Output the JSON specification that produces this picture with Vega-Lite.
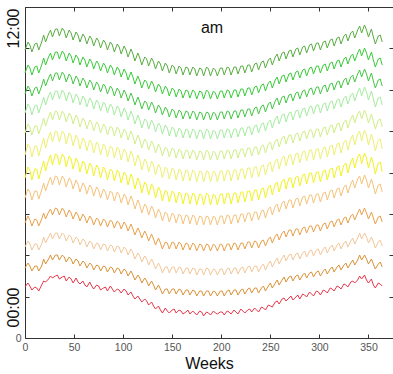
{
"$schema":"https://vega.github.io/schema/vega-lite/v6.json",
"width":368,"height":331,
"autosize":"none",
"padding":{"left":25,"top":7,"right":0,"bottom":36},
"background":"white",
"config":{"view":{"stroke":null},"font":"Liberation Sans"},
"title":{"text":"am","fontSize":16,"fontWeight":"normal","color":"#111111","offset":-42,"dx":3,"baseline":"alphabetic"},
"datasets":{"rows":[
{"x":0,"a":288,"b":265,"c":244,"d":225,"e":205,"f":183,"g":160,"h":140,"i":115,"j":91,"k":70,"l":51},
{"x":3,"a":296,"b":273,"c":252,"d":234,"e":214,"f":194,"g":171,"h":149,"i":122,"j":97,"k":75,"l":55},
{"x":5,"a":293,"b":270,"c":249,"d":231,"e":211,"f":191,"g":168,"h":146,"i":118,"j":94,"k":72,"l":52},
{"x":7,"a":286,"b":263,"c":242,"d":223,"e":203,"f":181,"g":158,"h":138,"i":112,"j":88,"k":67,"l":48},
{"x":10,"a":294,"b":271,"c":250,"d":232,"e":212,"f":192,"g":169,"h":147,"i":119,"j":94,"k":72,"l":51},
{"x":12,"a":295,"b":272,"c":251,"d":233,"e":212,"f":192,"g":169,"h":147,"i":118,"j":94,"k":72,"l":50},
{"x":14,"a":288,"b":265,"c":244,"d":225,"e":204,"f":182,"g":159,"h":139,"i":112,"j":88,"k":67,"l":47},
{"x":17,"a":296,"b":273,"c":252,"d":234,"e":213,"f":193,"g":170,"h":148,"i":119,"j":94,"k":72,"l":53},
{"x":19,"a":303,"b":280,"c":259,"d":241,"e":220,"f":200,"g":177,"h":155,"i":125,"j":101,"k":79,"l":57},
{"x":21,"a":296,"b":273,"c":252,"d":233,"e":212,"f":190,"g":167,"h":147,"i":119,"j":95,"k":74,"l":56},
{"x":24,"a":304,"b":281,"c":260,"d":242,"e":221,"f":201,"g":178,"h":156,"i":126,"j":101,"k":79,"l":59},
{"x":26,"a":308,"b":285,"c":264,"d":246,"e":226,"f":206,"g":183,"h":161,"i":129,"j":105,"k":83,"l":62},
{"x":28,"a":301,"b":278,"c":257,"d":238,"e":218,"f":196,"g":173,"h":153,"i":123,"j":99,"k":78,"l":60},
{"x":31,"a":309,"b":286,"c":265,"d":247,"e":227,"f":207,"g":184,"h":162,"i":130,"j":105,"k":83,"l":62},
{"x":33,"a":309,"b":286,"c":265,"d":247,"e":226,"f":206,"g":183,"h":161,"i":129,"j":105,"k":83,"l":63},
{"x":35,"a":302,"b":279,"c":258,"d":239,"e":218,"f":196,"g":173,"h":153,"i":123,"j":99,"k":78,"l":59},
{"x":38,"a":310,"b":287,"c":266,"d":248,"e":227,"f":207,"g":184,"h":162,"i":130,"j":105,"k":83,"l":61},
{"x":40,"a":307,"b":284,"c":263,"d":245,"e":224,"f":204,"g":181,"h":159,"i":127,"j":103,"k":81,"l":62},
{"x":42,"a":300,"b":277,"c":256,"d":237,"e":216,"f":194,"g":171,"h":151,"i":121,"j":97,"k":76,"l":57},
{"x":45,"a":308,"b":285,"c":264,"d":246,"e":225,"f":205,"g":182,"h":160,"i":128,"j":103,"k":81,"l":61},
{"x":47,"a":305,"b":282,"c":261,"d":243,"e":222,"f":202,"g":179,"h":157,"i":125,"j":101,"k":79,"l":59},
{"x":49,"a":298,"b":275,"c":254,"d":235,"e":214,"f":192,"g":169,"h":149,"i":119,"j":95,"k":74,"l":55},
{"x":52,"a":306,"b":283,"c":262,"d":244,"e":223,"f":203,"g":180,"h":158,"i":126,"j":101,"k":79,"l":60},
{"x":54,"a":303,"b":280,"c":259,"d":241,"e":219,"f":199,"g":176,"h":154,"i":123,"j":99,"k":77,"l":56},
{"x":56,"a":296,"b":273,"c":252,"d":233,"e":211,"f":189,"g":166,"h":146,"i":117,"j":93,"k":72,"l":54},
{"x":59,"a":304,"b":281,"c":260,"d":242,"e":220,"f":200,"g":177,"h":155,"i":124,"j":99,"k":77,"l":57},
{"x":61,"a":301,"b":278,"c":257,"d":239,"e":217,"f":197,"g":174,"h":152,"i":121,"j":97,"k":75,"l":53},
{"x":63,"a":294,"b":271,"c":250,"d":231,"e":209,"f":187,"g":164,"h":144,"i":115,"j":91,"k":70,"l":51},
{"x":66,"a":302,"b":279,"c":258,"d":240,"e":218,"f":198,"g":175,"h":153,"i":122,"j":97,"k":75,"l":56},
{"x":68,"a":299,"b":276,"c":255,"d":237,"e":215,"f":195,"g":172,"h":150,"i":119,"j":95,"k":73,"l":52},
{"x":70,"a":292,"b":269,"c":248,"d":229,"e":207,"f":185,"g":162,"h":142,"i":113,"j":89,"k":68,"l":49},
{"x":73,"a":300,"b":277,"c":256,"d":238,"e":216,"f":196,"g":173,"h":151,"i":120,"j":95,"k":73,"l":53},
{"x":75,"a":297,"b":274,"c":253,"d":235,"e":213,"f":193,"g":170,"h":148,"i":118,"j":94,"k":72,"l":52},
{"x":77,"a":290,"b":267,"c":246,"d":227,"e":205,"f":183,"g":160,"h":140,"i":112,"j":88,"k":67,"l":48},
{"x":80,"a":298,"b":275,"c":254,"d":236,"e":214,"f":194,"g":171,"h":149,"i":119,"j":94,"k":72,"l":50},
{"x":82,"a":295,"b":272,"c":251,"d":233,"e":211,"f":191,"g":168,"h":146,"i":117,"j":93,"k":71,"l":51},
{"x":84,"a":288,"b":265,"c":244,"d":225,"e":203,"f":181,"g":158,"h":138,"i":111,"j":87,"k":66,"l":47},
{"x":87,"a":296,"b":273,"c":252,"d":234,"e":212,"f":192,"g":169,"h":147,"i":118,"j":93,"k":71,"l":52},
{"x":89,"a":293,"b":270,"c":249,"d":231,"e":210,"f":190,"g":167,"h":145,"i":116,"j":92,"k":70,"l":49},
{"x":91,"a":286,"b":263,"c":242,"d":223,"e":202,"f":180,"g":157,"h":137,"i":110,"j":86,"k":65,"l":46},
{"x":94,"a":294,"b":271,"c":250,"d":232,"e":211,"f":191,"g":168,"h":146,"i":117,"j":92,"k":70,"l":49},
{"x":96,"a":291,"b":268,"c":247,"d":229,"e":208,"f":188,"g":165,"h":143,"i":115,"j":91,"k":69,"l":48},
{"x":98,"a":284,"b":261,"c":240,"d":221,"e":200,"f":178,"g":155,"h":135,"i":109,"j":85,"k":64,"l":45},
{"x":101,"a":292,"b":269,"c":248,"d":230,"e":209,"f":189,"g":166,"h":144,"i":116,"j":91,"k":69,"l":49},
{"x":103,"a":288,"b":265,"c":244,"d":226,"e":206,"f":186,"g":163,"h":141,"i":113,"j":89,"k":67,"l":47},
{"x":105,"a":281,"b":258,"c":237,"d":218,"e":198,"f":176,"g":153,"h":133,"i":107,"j":83,"k":62,"l":43},
{"x":108,"a":289,"b":266,"c":245,"d":227,"e":207,"f":187,"g":164,"h":142,"i":114,"j":89,"k":67,"l":46},
{"x":110,"a":284,"b":261,"c":240,"d":222,"e":202,"f":182,"g":159,"h":137,"i":109,"j":85,"k":63,"l":42},
{"x":112,"a":277,"b":254,"c":233,"d":214,"e":194,"f":172,"g":149,"h":129,"i":103,"j":79,"k":58,"l":39},
{"x":115,"a":285,"b":262,"c":241,"d":223,"e":203,"f":183,"g":160,"h":138,"i":110,"j":85,"k":63,"l":42},
{"x":117,"a":280,"b":257,"c":236,"d":218,"e":198,"f":178,"g":155,"h":133,"i":106,"j":82,"k":60,"l":39},
{"x":119,"a":273,"b":250,"c":229,"d":210,"e":190,"f":168,"g":145,"h":125,"i":100,"j":76,"k":55,"l":36},
{"x":122,"a":281,"b":258,"c":237,"d":219,"e":199,"f":179,"g":156,"h":134,"i":107,"j":82,"k":60,"l":39},
{"x":124,"a":279,"b":256,"c":235,"d":217,"e":196,"f":176,"g":153,"h":131,"i":103,"j":79,"k":57,"l":37},
{"x":126,"a":272,"b":249,"c":228,"d":209,"e":188,"f":166,"g":143,"h":123,"i":97,"j":73,"k":52,"l":33},
{"x":129,"a":280,"b":257,"c":236,"d":218,"e":197,"f":177,"g":154,"h":132,"i":104,"j":79,"k":57,"l":36},
{"x":131,"a":276,"b":253,"c":232,"d":214,"e":193,"f":173,"g":150,"h":128,"i":99,"j":75,"k":53,"l":32},
{"x":133,"a":269,"b":246,"c":225,"d":206,"e":185,"f":163,"g":140,"h":120,"i":93,"j":69,"k":48,"l":29},
{"x":136,"a":277,"b":254,"c":233,"d":215,"e":194,"f":174,"g":151,"h":129,"i":100,"j":75,"k":53,"l":32},
{"x":138,"a":274,"b":251,"c":230,"d":212,"e":190,"f":170,"g":147,"h":125,"i":95,"j":71,"k":49,"l":28},
{"x":140,"a":267,"b":244,"c":223,"d":204,"e":182,"f":160,"g":137,"h":117,"i":89,"j":65,"k":44,"l":25},
{"x":143,"a":275,"b":252,"c":231,"d":213,"e":191,"f":171,"g":148,"h":126,"i":96,"j":71,"k":49,"l":30},
{"x":145,"a":272,"b":249,"c":228,"d":210,"e":189,"f":169,"g":146,"h":124,"i":95,"j":71,"k":49,"l":27},
{"x":147,"a":265,"b":242,"c":221,"d":202,"e":181,"f":159,"g":136,"h":116,"i":89,"j":65,"k":44,"l":25},
{"x":150,"a":273,"b":250,"c":229,"d":211,"e":190,"f":170,"g":147,"h":125,"i":96,"j":71,"k":49,"l":28},
{"x":152,"a":271,"b":248,"c":227,"d":209,"e":188,"f":168,"g":145,"h":123,"i":95,"j":71,"k":49,"l":29},
{"x":154,"a":264,"b":241,"c":220,"d":201,"e":180,"f":158,"g":135,"h":115,"i":89,"j":65,"k":44,"l":25},
{"x":157,"a":272,"b":249,"c":228,"d":210,"e":189,"f":169,"g":146,"h":124,"i":96,"j":71,"k":49,"l":28},
{"x":159,"a":270,"b":247,"c":226,"d":208,"e":187,"f":167,"g":144,"h":122,"i":94,"j":70,"k":48,"l":27},
{"x":161,"a":263,"b":240,"c":219,"d":200,"e":179,"f":157,"g":134,"h":114,"i":88,"j":64,"k":43,"l":24},
{"x":164,"a":271,"b":248,"c":227,"d":209,"e":188,"f":168,"g":145,"h":123,"i":95,"j":70,"k":48,"l":26},
{"x":166,"a":270,"b":247,"c":226,"d":208,"e":187,"f":167,"g":144,"h":122,"i":94,"j":70,"k":48,"l":28},
{"x":168,"a":263,"b":240,"c":219,"d":200,"e":179,"f":157,"g":134,"h":114,"i":88,"j":64,"k":43,"l":24},
{"x":171,"a":271,"b":248,"c":227,"d":209,"e":188,"f":168,"g":145,"h":123,"i":95,"j":70,"k":48,"l":27},
{"x":173,"a":269,"b":246,"c":225,"d":207,"e":186,"f":166,"g":143,"h":121,"i":93,"j":69,"k":47,"l":25},
{"x":175,"a":262,"b":239,"c":218,"d":199,"e":178,"f":156,"g":133,"h":113,"i":87,"j":63,"k":42,"l":23},
{"x":178,"a":270,"b":247,"c":226,"d":208,"e":187,"f":167,"g":144,"h":122,"i":94,"j":69,"k":47,"l":27},
{"x":180,"a":269,"b":246,"c":225,"d":207,"e":186,"f":166,"g":143,"h":121,"i":93,"j":69,"k":47,"l":26},
{"x":182,"a":262,"b":239,"c":218,"d":199,"e":178,"f":156,"g":133,"h":113,"i":87,"j":63,"k":42,"l":22},
{"x":185,"a":271,"b":248,"c":226,"d":209,"e":188,"f":167,"g":145,"h":122,"i":94,"j":70,"k":47,"l":26},
{"x":187,"a":269,"b":246,"c":225,"d":207,"e":186,"f":166,"g":143,"h":121,"i":93,"j":69,"k":47,"l":25},
{"x":189,"a":262,"b":239,"c":218,"d":199,"e":178,"f":156,"g":133,"h":113,"i":87,"j":63,"k":42,"l":23},
{"x":192,"a":270,"b":247,"c":226,"d":208,"e":187,"f":167,"g":144,"h":122,"i":94,"j":69,"k":47,"l":27},
{"x":194,"a":268,"b":245,"c":224,"d":206,"e":185,"f":165,"g":142,"h":120,"i":92,"j":68,"k":46,"l":25},
{"x":196,"a":262,"b":239,"c":218,"d":199,"e":178,"f":156,"g":133,"h":113,"i":87,"j":63,"k":42,"l":24},
{"x":199,"a":270,"b":247,"c":226,"d":208,"e":187,"f":167,"g":144,"h":122,"i":94,"j":69,"k":47,"l":26},
{"x":201,"a":270,"b":247,"c":226,"d":208,"e":187,"f":167,"g":144,"h":122,"i":93,"j":69,"k":47,"l":26},
{"x":203,"a":263,"b":240,"c":219,"d":200,"e":179,"f":157,"g":134,"h":114,"i":87,"j":63,"k":42,"l":23},
{"x":206,"a":271,"b":248,"c":227,"d":209,"e":188,"f":168,"g":145,"h":123,"i":94,"j":69,"k":47,"l":27},
{"x":208,"a":270,"b":247,"c":226,"d":208,"e":187,"f":167,"g":144,"h":122,"i":94,"j":70,"k":48,"l":26},
{"x":210,"a":263,"b":240,"c":219,"d":200,"e":179,"f":157,"g":134,"h":114,"i":88,"j":64,"k":43,"l":24},
{"x":213,"a":271,"b":248,"c":227,"d":209,"e":188,"f":168,"g":145,"h":123,"i":95,"j":70,"k":48,"l":28},
{"x":215,"a":271,"b":248,"c":227,"d":209,"e":188,"f":168,"g":145,"h":123,"i":94,"j":70,"k":48,"l":26},
{"x":217,"a":264,"b":241,"c":220,"d":201,"e":180,"f":158,"g":135,"h":115,"i":88,"j":64,"k":43,"l":24},
{"x":220,"a":272,"b":249,"c":228,"d":210,"e":189,"f":169,"g":146,"h":124,"i":95,"j":70,"k":48,"l":29},
{"x":222,"a":272,"b":249,"c":228,"d":210,"e":189,"f":169,"g":146,"h":124,"i":95,"j":71,"k":49,"l":27},
{"x":224,"a":265,"b":242,"c":221,"d":202,"e":181,"f":159,"g":136,"h":116,"i":89,"j":65,"k":44,"l":25},
{"x":227,"a":273,"b":250,"c":229,"d":211,"e":190,"f":170,"g":147,"h":125,"i":96,"j":71,"k":49,"l":28},
{"x":229,"a":273,"b":250,"c":229,"d":211,"e":190,"f":170,"g":147,"h":125,"i":96,"j":72,"k":50,"l":29},
{"x":231,"a":266,"b":243,"c":222,"d":203,"e":182,"f":160,"g":137,"h":117,"i":90,"j":66,"k":45,"l":26},
{"x":234,"a":274,"b":251,"c":230,"d":212,"e":191,"f":171,"g":148,"h":126,"i":97,"j":72,"k":50,"l":30},
{"x":236,"a":275,"b":252,"c":231,"d":213,"e":191,"f":171,"g":148,"h":126,"i":96,"j":72,"k":50,"l":28},
{"x":238,"a":268,"b":245,"c":224,"d":205,"e":183,"f":161,"g":138,"h":118,"i":90,"j":66,"k":45,"l":26},
{"x":241,"a":276,"b":253,"c":232,"d":214,"e":192,"f":172,"g":149,"h":127,"i":97,"j":72,"k":50,"l":31},
{"x":243,"a":277,"b":254,"c":233,"d":215,"e":193,"f":173,"g":150,"h":128,"i":98,"j":74,"k":52,"l":30},
{"x":245,"a":270,"b":247,"c":226,"d":207,"e":185,"f":163,"g":140,"h":120,"i":92,"j":68,"k":47,"l":28},
{"x":248,"a":278,"b":255,"c":234,"d":216,"e":194,"f":174,"g":151,"h":129,"i":99,"j":74,"k":52,"l":33},
{"x":250,"a":280,"b":257,"c":236,"d":218,"e":196,"f":176,"g":153,"h":131,"i":101,"j":77,"k":55,"l":32},
{"x":252,"a":273,"b":250,"c":229,"d":210,"e":188,"f":166,"g":143,"h":123,"i":95,"j":71,"k":50,"l":31},
{"x":255,"a":281,"b":258,"c":237,"d":219,"e":197,"f":177,"g":154,"h":132,"i":102,"j":77,"k":55,"l":36},
{"x":257,"a":284,"b":261,"c":240,"d":222,"e":199,"f":179,"g":156,"h":134,"i":104,"j":80,"k":58,"l":37},
{"x":259,"a":277,"b":254,"c":233,"d":214,"e":191,"f":169,"g":146,"h":126,"i":98,"j":74,"k":53,"l":34},
{"x":262,"a":285,"b":262,"c":241,"d":223,"e":200,"f":180,"g":157,"h":135,"i":105,"j":80,"k":58,"l":39},
{"x":264,"a":286,"b":263,"c":242,"d":224,"e":202,"f":182,"g":159,"h":137,"i":107,"j":83,"k":61,"l":40},
{"x":266,"a":279,"b":256,"c":235,"d":216,"e":194,"f":172,"g":149,"h":129,"i":101,"j":77,"k":56,"l":37},
{"x":269,"a":287,"b":264,"c":243,"d":225,"e":203,"f":183,"g":160,"h":138,"i":108,"j":83,"k":61,"l":40},
{"x":271,"a":288,"b":265,"c":244,"d":226,"e":203,"f":183,"g":160,"h":138,"i":108,"j":84,"k":62,"l":42},
{"x":273,"a":281,"b":258,"c":237,"d":218,"e":195,"f":173,"g":150,"h":130,"i":102,"j":78,"k":57,"l":38},
{"x":276,"a":289,"b":266,"c":245,"d":227,"e":204,"f":184,"g":161,"h":139,"i":109,"j":84,"k":62,"l":41},
{"x":278,"a":290,"b":267,"c":246,"d":228,"e":205,"f":185,"g":162,"h":140,"i":109,"j":85,"k":63,"l":43},
{"x":280,"a":283,"b":260,"c":239,"d":220,"e":197,"f":175,"g":152,"h":132,"i":103,"j":79,"k":58,"l":39},
{"x":283,"a":291,"b":268,"c":247,"d":229,"e":206,"f":186,"g":163,"h":141,"i":110,"j":85,"k":63,"l":44},
{"x":285,"a":292,"b":269,"c":248,"d":230,"e":207,"f":187,"g":164,"h":142,"i":111,"j":87,"k":65,"l":43},
{"x":287,"a":285,"b":262,"c":241,"d":222,"e":199,"f":177,"g":154,"h":134,"i":105,"j":81,"k":60,"l":41},
{"x":290,"a":293,"b":270,"c":249,"d":231,"e":208,"f":188,"g":165,"h":143,"i":112,"j":87,"k":65,"l":46},
{"x":292,"a":294,"b":271,"c":250,"d":232,"e":208,"f":188,"g":165,"h":143,"i":112,"j":88,"k":66,"l":44},
{"x":294,"a":287,"b":264,"c":243,"d":224,"e":200,"f":178,"g":155,"h":135,"i":106,"j":82,"k":61,"l":42},
{"x":297,"a":295,"b":272,"c":251,"d":233,"e":209,"f":189,"g":166,"h":144,"i":113,"j":88,"k":66,"l":47},
{"x":299,"a":295,"b":272,"c":251,"d":233,"e":209,"f":189,"g":166,"h":144,"i":113,"j":89,"k":67,"l":46},
{"x":301,"a":288,"b":265,"c":244,"d":225,"e":201,"f":179,"g":156,"h":136,"i":107,"j":83,"k":62,"l":43},
{"x":304,"a":296,"b":273,"c":252,"d":234,"e":210,"f":190,"g":167,"h":145,"i":114,"j":89,"k":67,"l":48},
{"x":306,"a":297,"b":274,"c":253,"d":235,"e":211,"f":191,"g":168,"h":146,"i":115,"j":91,"k":69,"l":47},
{"x":308,"a":290,"b":267,"c":246,"d":227,"e":203,"f":181,"g":158,"h":138,"i":109,"j":85,"k":64,"l":45},
{"x":311,"a":298,"b":275,"c":254,"d":236,"e":212,"f":192,"g":169,"h":147,"i":116,"j":91,"k":69,"l":50},
{"x":313,"a":299,"b":276,"c":255,"d":237,"e":213,"f":193,"g":170,"h":148,"i":117,"j":93,"k":71,"l":49},
{"x":315,"a":292,"b":269,"c":248,"d":229,"e":205,"f":183,"g":160,"h":140,"i":111,"j":87,"k":66,"l":47},
{"x":318,"a":300,"b":277,"c":256,"d":238,"e":214,"f":194,"g":171,"h":149,"i":118,"j":93,"k":71,"l":52},
{"x":320,"a":301,"b":278,"c":257,"d":239,"e":215,"f":195,"g":172,"h":150,"i":119,"j":95,"k":73,"l":51},
{"x":322,"a":294,"b":271,"c":250,"d":231,"e":207,"f":185,"g":162,"h":142,"i":113,"j":89,"k":68,"l":49},
{"x":325,"a":302,"b":279,"c":258,"d":240,"e":216,"f":196,"g":173,"h":151,"i":120,"j":95,"k":73,"l":54},
{"x":327,"a":304,"b":281,"c":260,"d":242,"e":218,"f":198,"g":175,"h":153,"i":121,"j":97,"k":75,"l":53},
{"x":329,"a":297,"b":274,"c":253,"d":234,"e":210,"f":188,"g":165,"h":145,"i":115,"j":91,"k":70,"l":51},
{"x":332,"a":305,"b":282,"c":261,"d":243,"e":219,"f":199,"g":176,"h":154,"i":122,"j":97,"k":75,"l":56},
{"x":334,"a":307,"b":284,"c":263,"d":245,"e":223,"f":203,"g":180,"h":158,"i":124,"j":100,"k":78,"l":57},
{"x":336,"a":300,"b":277,"c":256,"d":237,"e":215,"f":193,"g":170,"h":150,"i":118,"j":94,"k":73,"l":55},
{"x":339,"a":308,"b":285,"c":264,"d":246,"e":224,"f":204,"g":181,"h":159,"i":125,"j":100,"k":78,"l":58},
{"x":341,"a":312,"b":289,"c":268,"d":250,"e":227,"f":207,"g":184,"h":162,"i":129,"j":105,"k":83,"l":62},
{"x":343,"a":305,"b":282,"c":261,"d":242,"e":219,"f":197,"g":174,"h":154,"i":123,"j":99,"k":78,"l":59},
{"x":346,"a":313,"b":290,"c":269,"d":251,"e":228,"f":208,"g":185,"h":163,"i":130,"j":105,"k":83,"l":63},
{"x":348,"a":308,"b":285,"c":264,"d":246,"e":223,"f":203,"g":180,"h":158,"i":125,"j":101,"k":79,"l":58},
{"x":350,"a":301,"b":278,"c":257,"d":238,"e":215,"f":193,"g":170,"h":150,"i":119,"j":95,"k":74,"l":55},
{"x":353,"a":309,"b":286,"c":265,"d":247,"e":224,"f":204,"g":181,"h":159,"i":126,"j":101,"k":79,"l":59},
{"x":355,"a":301,"b":278,"c":257,"d":239,"e":217,"f":197,"g":174,"h":152,"i":120,"j":96,"k":74,"l":53},
{"x":357,"a":294,"b":271,"c":250,"d":231,"e":209,"f":187,"g":164,"h":144,"i":114,"j":90,"k":69,"l":50},
{"x":360,"a":302,"b":279,"c":258,"d":240,"e":218,"f":198,"g":175,"h":153,"i":121,"j":96,"k":74,"l":55},
{"x":362,"a":303,"b":280,"c":259,"d":241,"e":219,"f":199,"g":176,"h":154,"i":122,"j":98,"k":76,"l":54},
{"x":364,"a":296,"b":273,"c":252,"d":233,"e":211,"f":189,"g":166,"h":146,"i":116,"j":92,"k":71,"l":52}
]},
"layer":[
{
"data":{"name":"rows"},
"transform":[{"fold":["a","b","c","d","e","f","g","h","i","j","k","l"],"as":["s","v"]}],
"mark":{"type":"line","strokeWidth":1},
"encoding":{
"x":{"field":"x","type":"quantitative","scale":{"domain":[0,375],"nice":false,"zero":false},
"axis":{"orient":"bottom","values":[0,50,100,150,200,250,300,350],"tickSize":-4,"labelPadding":8,"labelFlush":false,"labelOverlap":false,"labelFontSize":10.5,"labelColor":"#555555","domainColor":"#333333","tickColor":"#333333","grid":false,"title":"Weeks","titleFontSize":16,"titleFontWeight":"normal","titleColor":"#111111","titlePadding":3}},
"y":{"field":"v","type":"quantitative","scale":{"domain":[0,331],"nice":false,"zero":false},
"axis":{"orient":"left","values":[0,41.375,82.75,124.125,165.5,206.875,248.25,289.625,331],"tickSize":-4,"labelPadding":8,"labelExpr":"datum.value==0?'0':''","labelFontSize":10.5,"labelColor":"#555555","domainColor":"#333333","tickColor":"#333333","grid":false,"title":null}},
"color":{"field":"s","type":"nominal","legend":null,
"scale":{"domain":["a","b","c","d","e","f","g","h","i","j","k","l"],
"range":["#58ad40","#38cc38","#44c644","#a6eca0","#d0ee88","#eef070","#f2f222","#f5c27a","#e8a048","#f2c79a","#d99236","#e8364a"]}}
}
},
{
"data":{"values":[{"x":0,"v":0}]},
"mark":{"type":"point","opacity":0},
"encoding":{
"x":{"field":"x","type":"quantitative","axis":{"orient":"top","values":[0,50,100,150,200,250,300,350],"tickSize":-4,"labels":false,"domainColor":"#333333","tickColor":"#333333","grid":false,"title":null}},
"y":{"field":"v","type":"quantitative","axis":{"orient":"right","values":[0,41.375,82.75,124.125,165.5,206.875,248.25,289.625,331],"tickSize":-4,"labels":false,"domainColor":"#333333","tickColor":"#333333","grid":false,"title":null}}
}
},
{
"data":{"values":[{"x":0,"v":0}]},
"mark":{"type":"point","opacity":0},
"encoding":{
"x":{"field":"x","type":"quantitative","axis":null},
"y":{"field":"v","type":"quantitative","axis":{"orient":"left","values":[31,310],"labelExpr":"datum.value<100?'00:00':'12:00'","labelAngle":270,"labelAlign":"center","labelBaseline":"alphabetic","labelFontSize":16,"labelColor":"#111111","labelPadding":7,"labelOverlap":false,"ticks":false,"domain":false,"grid":false,"title":null}}
}
}
],
"resolve":{"axis":{"x":"independent","y":"independent"}}
}
